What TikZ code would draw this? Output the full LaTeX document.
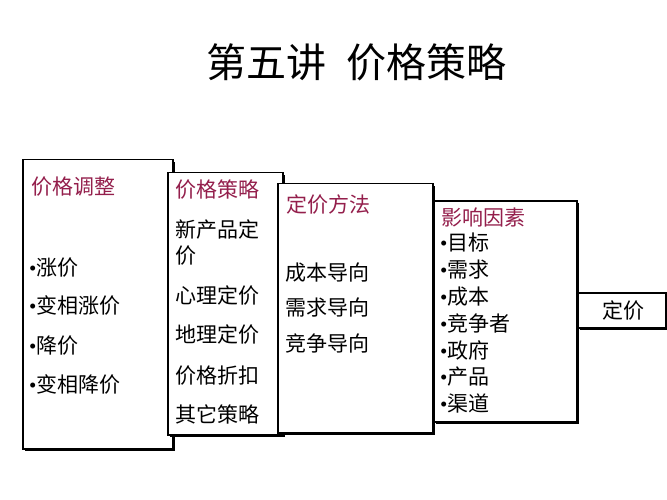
\documentclass[tikz,border=0pt]{standalone}
\usepackage{fontspec}
\setmainfont{Noto Sans CJK SC}
\newfontfamily\latinfont{Liberation Serif}
\usetikzlibrary{shadows}
\definecolor{headred}{rgb}{0.58,0.12,0.30}
\newcommand{\bul}{{\latinfont •}}
\tikzset{
  box/.style={draw=black, line width=1.5pt, fill=white, anchor=north west, inner sep=0pt,
    drop shadow={shadow xshift=2pt, shadow yshift=-2pt, fill=black, opacity=1}},
  txt/.style={anchor=west, inner sep=0pt, font=\fontsize{21}{23}\selectfont},
  head/.style={txt, text=headred}
}
\begin{document}
\begin{tikzpicture}[x=1pt,y=-1pt]
\useasboundingbox (0,0) rectangle (667,500);
\node[font=\fontsize{40}{42}\selectfont, inner sep=0pt] (title) at (356,62) {第五讲\hspace{0.5em}价格策略};
% box 1
\node[box, minimum width=150pt, minimum height=289pt] (b1) at (22,159) {};
\node[head] (h1) at (31,187) {价格调整};
\node[txt] (a1) at (29,268) {\bul 涨价};
\node[txt] (a2) at (29,306) {\bul 变相涨价};
\node[txt] (a3) at (29,346) {\bul 降价};
\node[txt] (a4) at (29,385) {\bul 变相降价};
% box 2
\node[box, minimum width=115pt, minimum height=262pt] (b2) at (167,172) {};
\node[head] (h2) at (175,190) {价格策略};
\node[txt] (p1) at (175,230) {新产品定};
\node[txt] (p1b) at (175,256) {价};
\node[txt] (p2) at (175,296) {心理定价};
\node[txt] (p3) at (175,335) {地理定价};
\node[txt] (p4) at (175,376) {价格折扣};
\node[txt] (p5) at (175,414) {其它策略};
% box 3
\node[box, minimum width=155pt, minimum height=249pt] (b3) at (277,183) {};
\node[head] (h3) at (286,205) {定价方法};
\node[txt] (m1) at (285,273) {成本导向};
\node[txt] (m2) at (285,308) {需求导向};
\node[txt] (m3) at (285,343) {竞争导向};
% box 4
\node[box, minimum width=143pt, minimum height=221pt] (b4) at (433,200) {};
\node[head] (h4) at (441,217) {影响因素};
\node[txt] (f1) at (440,243) {\bul 目标};
\node[txt] (f2) at (440,270) {\bul 需求};
\node[txt] (f3) at (440,297) {\bul 成本};
\node[txt] (f4) at (440,323) {\bul 竞争者};
\node[txt] (f5) at (440,350) {\bul 政府};
\node[txt] (f6) at (440,377) {\bul 产品};
\node[txt] (f7) at (440,403) {\bul 渠道};
% box 5
\node[box, minimum width=88pt, minimum height=35pt] (b5) at (577,292) {};
\node[txt, anchor=center] (d) at (623,311) {定价};
\end{tikzpicture}
\end{document}
